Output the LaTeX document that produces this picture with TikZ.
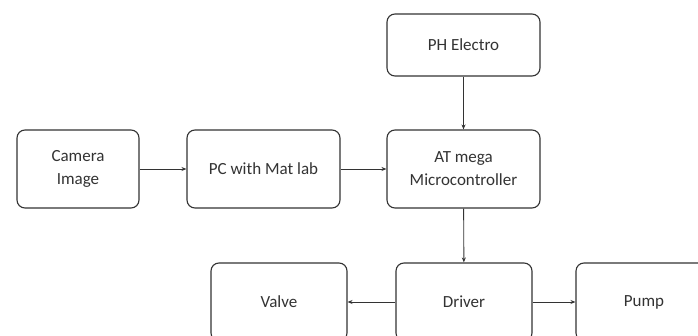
\documentclass[tikz,border=0pt]{standalone}
\usepackage{fontspec}
\setmainfont{Carlito}
\usetikzlibrary{arrows.meta}
\begin{document}
\begin{tikzpicture}[x=1pt,y=-1pt,
  blk/.style={draw=black!80, line width=1.1pt, rounded corners=8pt, fill=white,
    minimum width=#1, minimum height=78pt, align=center, inner sep=0pt,
    font=\fontsize{17}{23}\selectfont, text=black!80},
  blk/.default=153pt,
  conn/.style={draw=black!80, line width=0.9pt, -{Stealth[length=5pt,width=4pt]}}]
\useasboundingbox (0,0) rectangle (698,336);
\clip (0,0) rectangle (698,336);
\node[blk=122pt] (cam) at (78,169) {Camera\\Image};
\node[blk] (pc) at (263.5,169) {PC with Mat lab};
\node[blk] (at) at (463.5,169) {AT mega\\Microcontroller};
\node[blk, minimum height=62pt] (ph) at (463.5,45) {PH Electro};
\node[blk=136pt] (valve) at (279,302) {Valve};
\node[blk=136pt] (drv) at (464,302) {Driver};
\node[blk=136pt] (pump) at (644,302) {Pump};
\draw[conn] (cam) -- (pc);
\draw[conn] (pc) -- (at);
\draw[conn] (ph) -- (at);
\draw[conn] (at) -- (drv);
\draw[conn] (drv) -- (valve);
\draw[conn] (drv) -- (pump);
\end{tikzpicture}
\end{document}
